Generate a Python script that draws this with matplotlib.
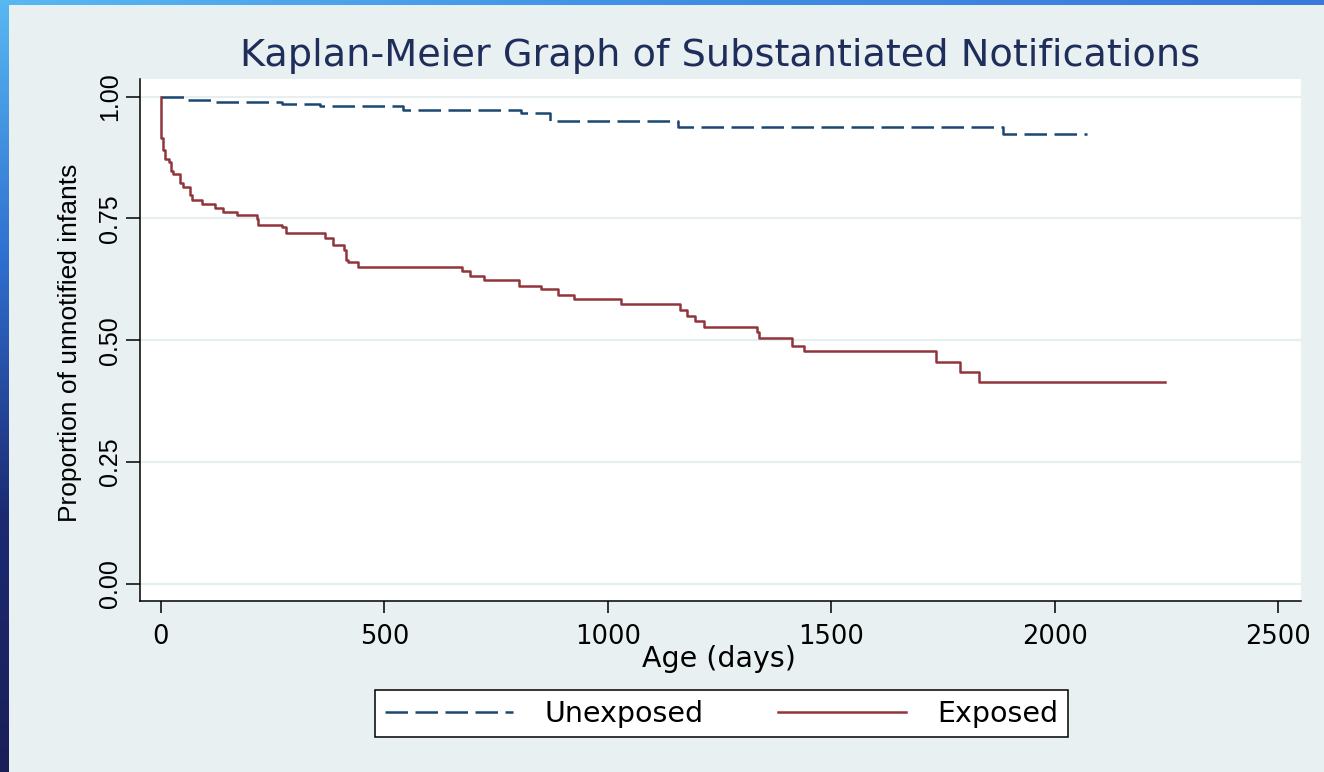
import matplotlib.pyplot as plt
import numpy as np
from matplotlib.colors import LinearSegmentedColormap
from matplotlib.lines import Line2D

# Kaplan-Meier step data
UNEXPOSED_DAYS = [0, 59, 119, 272, 355, 541, 806, 871, 1156, 1885, 2072]
UNEXPOSED_SURV = [1.0, 0.992, 0.988, 0.984, 0.981, 0.973, 0.966, 0.949, 0.938, 0.923, 0.923]

EXPOSED_DAYS = [
    0, 0, 5, 10, 17, 22, 28, 43, 49, 65,
    70, 91, 122, 138, 170, 214, 218, 271, 280, 367,
    386, 410, 414, 419, 441, 674, 691, 722, 801, 850,
    888, 925, 1030, 1162, 1178, 1194, 1215, 1333, 1338, 1412,
    1438, 1735, 1788, 1831, 2247,
]
EXPOSED_SURV = [
    1.0, 0.915, 0.891, 0.872, 0.865, 0.848, 0.841, 0.822, 0.814, 0.798,
    0.788, 0.780, 0.771, 0.764, 0.756, 0.748, 0.737, 0.732, 0.721, 0.710,
    0.695, 0.686, 0.665, 0.660, 0.651, 0.643, 0.631, 0.624, 0.612, 0.605,
    0.593, 0.585, 0.574, 0.562, 0.550, 0.539, 0.527, 0.516, 0.504, 0.489,
    0.477, 0.455, 0.434, 0.415, 0.415,
]

X_TICKS = [0, 500, 1000, 1500, 2000, 2500]
Y_TICKS = [0.0, 0.25, 0.5, 0.75, 1.0]
SERIES_LABELS = ["Unexposed", "Exposed"]

NAVY = "#1a476f"
MAROON = "#90353b"
BG = "#e8f0f2"
TITLE_COLOR = "#1e2d5a"
DASH = (0, (9, 3))

W, H = 1324, 772
fig = plt.figure(figsize=(W / 100, H / 100), dpi=100)
fig.patch.set_facecolor(BG)

# slide border strips (blue gradients on the left and top)
left_cmap = LinearSegmentedColormap.from_list("l", ["#58b8f2", "#2f6fd0", "#1c2a72", "#1a1f58"])
top_cmap = LinearSegmentedColormap.from_list("t", ["#58b8f2", "#3f8fe6", "#3a78dc"])
lax = fig.add_axes([0, 0, 9 / W, 1])
lax.imshow(np.linspace(0, 1, 256)[:, None], aspect="auto", cmap=left_cmap)
lax.axis("off")
tax = fig.add_axes([0, 1 - 5 / H, 1, 5 / H])
tax.imshow(np.linspace(0, 1, 256)[None, :], aspect="auto", cmap=top_cmap)
tax.axis("off")

ax = fig.add_axes([140 / W, (H - 601) / H, 1161 / W, 522 / H])
ax.set_facecolor("white")
ax.step(UNEXPOSED_DAYS, UNEXPOSED_SURV, where="post", color=NAVY, lw=1.8, linestyle=DASH)
ax.step(EXPOSED_DAYS, EXPOSED_SURV, where="post", color=MAROON, lw=1.8)

ax.set_xlim(-46.8, 2551)
ax.set_ylim(-0.035, 1.036)
ax.set_xticks(X_TICKS)
ax.set_xticklabels([str(t) for t in X_TICKS], fontsize=18.5, family="DejaVu Sans")
ax.set_yticks(Y_TICKS)
ax.set_yticklabels([f"{t:.2f}" for t in Y_TICKS], fontsize=18, family="Liberation Sans",
                   rotation=90, va="center")
ax.tick_params(axis="x", length=8.5, width=1.1, pad=8)
ax.tick_params(axis="y", length=10, width=1.1, pad=3)
ax.grid(axis="y", color="#e6eef0", lw=1.6)
ax.set_axisbelow(True)
for side in ["top", "right"]:
    ax.spines[side].set_visible(False)
for side in ["left", "bottom"]:
    ax.spines[side].set_linewidth(1.1)

ax.set_ylabel("Proportion of unnotified infants", fontsize=19, family="Liberation Sans")
ax.yaxis.label.set_va("center")
ax.yaxis.set_label_coords(-0.060, 0.495)

fig.text(720 / W, 1 - 66 / H, "Kaplan-Meier Graph of Substantiated Notifications",
         ha="center", va="baseline", fontsize=27.5, color=TITLE_COLOR, family="DejaVu Sans")
fig.text(719 / W, 1 - 659 / H, "Age (days)", ha="center", va="center", fontsize=20.5,
         family="DejaVu Sans")

handles = [
    Line2D([], [], color=NAVY, lw=1.8, linestyle=DASH),
    Line2D([], [], color=MAROON, lw=1.8),
]
leg = fig.legend(handles, SERIES_LABELS, ncol=2, loc="center",
                 bbox_to_anchor=(721.5 / W, 1 - 713.5 / H),
                 prop={"family": "DejaVu Sans", "size": 20.5},
                 frameon=True, fancybox=False, framealpha=1, edgecolor="black",
                 handlelength=4.5, handletextpad=1.1, columnspacing=2.6, borderpad=0.35)
leg.get_frame().set_linewidth(1.1)

fig.savefig("out.png", dpi=100, facecolor=fig.get_facecolor())
